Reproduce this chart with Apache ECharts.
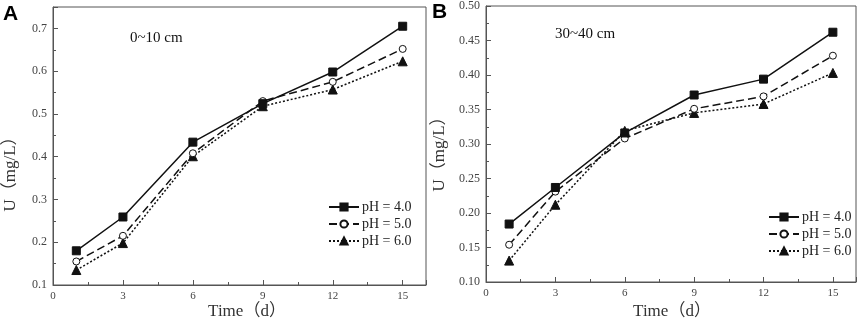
<!DOCTYPE html>
<html>
<head>
<meta charset="utf-8">
<script src="https://cdn.jsdelivr.net/npm/echarts@6/dist/echarts.min.js"></script>
<style>
  html, body { margin: 0; padding: 0; background: #fff; }
  #main { width: 858px; height: 323px; }
</style>
</head>
<body>
<div id="main"></div>
<script>
// 数据
var days = [1, 3, 6, 9, 12, 15];
var seriesNames = ['pH = 4.0', 'pH = 5.0', 'pH = 6.0'];

// A: 0~10 cm
var a_ph4 = [0.180, 0.259, 0.434, 0.524, 0.598, 0.705];
var a_ph5 = [0.155, 0.215, 0.408, 0.530, 0.575, 0.652];
var a_ph6 = [0.135, 0.198, 0.401, 0.518, 0.557, 0.623];

// B: 30~40 cm
var b_ph4 = [0.184, 0.237, 0.316, 0.371, 0.394, 0.462];
var b_ph5 = [0.154, 0.231, 0.308, 0.351, 0.369, 0.428];
var b_ph6 = [0.131, 0.212, 0.319, 0.345, 0.358, 0.403];

var serif = '"Liberation Serif", "Times New Roman", "Noto Sans CJK SC", serif';
var axisColor = '#555';

function pairs(vals) {
    var out = [];
    for (var i = 0; i < days.length; i++) {
        out.push([days[i], vals[i]]);
    }
    return out;
}

// 三种线型
var styles = [
    { symbol: 'rect', symbolSize: 8, type: 'solid', fill: '#111' },
    { symbol: 'circle', symbolSize: 7, type: [8, 4], fill: '#fff' },
    { symbol: 'triangle', symbolSize: 9, type: [2, 2], fill: '#111' }
];

function makeSeries(idx, vals, panel) {
    var s = styles[idx];
    return {
        name: seriesNames[idx],
        type: 'line',
        xAxisIndex: panel,
        yAxisIndex: panel,
        data: pairs(vals),
        symbol: s.symbol,
        symbolSize: s.symbolSize,
        showAllSymbol: true,
        lineStyle: { color: '#111', width: 1.5, type: s.type },
        itemStyle: { color: s.fill, borderColor: '#111', borderWidth: 1 },
        emphasis: { disabled: true },
        z: 3 - idx
    };
}

function xAxisOpt(gridIndex) {
    return {
        gridIndex: gridIndex,
        type: 'value',
        min: 0,
        max: 16,
        interval: 3,
        axisLine: { show: true, lineStyle: { color: axisColor, width: 1 } },
        axisTick: { show: true, inside: true, length: 5, lineStyle: { color: axisColor } },
        minorTick: { show: true, splitNumber: 2, length: 3, lineStyle: { color: axisColor } },
        axisLabel: { showMaxLabel: false, fontFamily: serif, fontSize: 11, color: '#444', margin: 6 },
        splitLine: { show: false }
    };
}

function yAxisOpt(gridIndex, min, max, interval, decimals) {
    return {
        gridIndex: gridIndex,
        type: 'value',
        min: min,
        max: max,
        interval: interval,
        axisLine: { show: true, lineStyle: { color: axisColor, width: 1 } },
        axisTick: { show: true, inside: true, length: 5, lineStyle: { color: axisColor } },
        minorTick: { show: true, splitNumber: 2, length: 3, lineStyle: { color: axisColor } },
        axisLabel: {
            fontFamily: serif, fontSize: 12, color: '#444', margin: 6,
            formatter: function (v) {
                // 顶端 0.75 不显示
                if (v > 0.7 && decimals === 1) return '';
                return v.toFixed(decimals);
            }
        },
        splitLine: { show: false }
    };
}

function legendOpt(left, top) {
    return {
        orient: 'vertical',
        left: left,
        top: top,
        padding: 0,
        itemWidth: 30,
        itemHeight: 9,
        itemGap: 3,
        data: seriesNames,
        selectedMode: false,
        textStyle: { fontFamily: serif, fontSize: 14, lineHeight: 14, color: '#222', padding: [0, 0, 0, -2] }
    };
}

// 轴标题用 graphic 放置
function axisTitle(text, x, y, rotate) {
    return {
        type: 'text',
        x: x,
        y: y,
        rotation: rotate ? Math.PI / 2 : 0,
        style: {
            text: text,
            font: '17px ' + serif,
            fill: '#333',
            align: 'center',
            verticalAlign: 'middle'
        }
    };
}

var myChart = echarts.init(document.getElementById('main'));

myChart.setOption({
    animation: false,
    backgroundColor: '#fff',
    grid: [
        { left: 53, top: 7, width: 373, height: 278, show: true, borderColor: axisColor, borderWidth: 1, backgroundColor: 'transparent' },
        { left: 486, top: 6, width: 370, height: 276, show: true, borderColor: axisColor, borderWidth: 1, backgroundColor: 'transparent' }
    ],
    xAxis: [xAxisOpt(0), xAxisOpt(1)],
    yAxis: [
        yAxisOpt(0, 0.1, 0.75, 0.1, 1),
        yAxisOpt(1, 0.1, 0.5, 0.05, 2)
    ],
    legend: [legendOpt(328, 200), legendOpt(768, 210)],
    graphic: [
        { type: 'text', left: 3, top: 4, style: { text: 'A', font: 'bold 21px "Liberation Sans", Arial, sans-serif', fill: '#000' } },
        { type: 'text', left: 432, top: 2, style: { text: 'B', font: 'bold 21px "Liberation Sans", Arial, sans-serif', fill: '#000' } },
        { type: 'text', left: 130, top: 31, style: { text: '0~10 cm', font: '15px ' + serif, fill: '#111' } },
        { type: 'text', left: 555, top: 27, style: { text: '30~40 cm', font: '15px ' + serif, fill: '#111' } },
        axisTitle('U（mg/L）', 11, 170, true),
        axisTitle('U（mg/L）', 440, 150, true),
        axisTitle('Time（d）', 247, 312, false),
        axisTitle('Time（d）', 672, 312, false)
    ],
    series: [
        makeSeries(0, a_ph4, 0),
        makeSeries(1, a_ph5, 0),
        makeSeries(2, a_ph6, 0),
        makeSeries(0, b_ph4, 1),
        makeSeries(1, b_ph5, 1),
        makeSeries(2, b_ph6, 1)
    ]
});
</script>
</body>
</html>
